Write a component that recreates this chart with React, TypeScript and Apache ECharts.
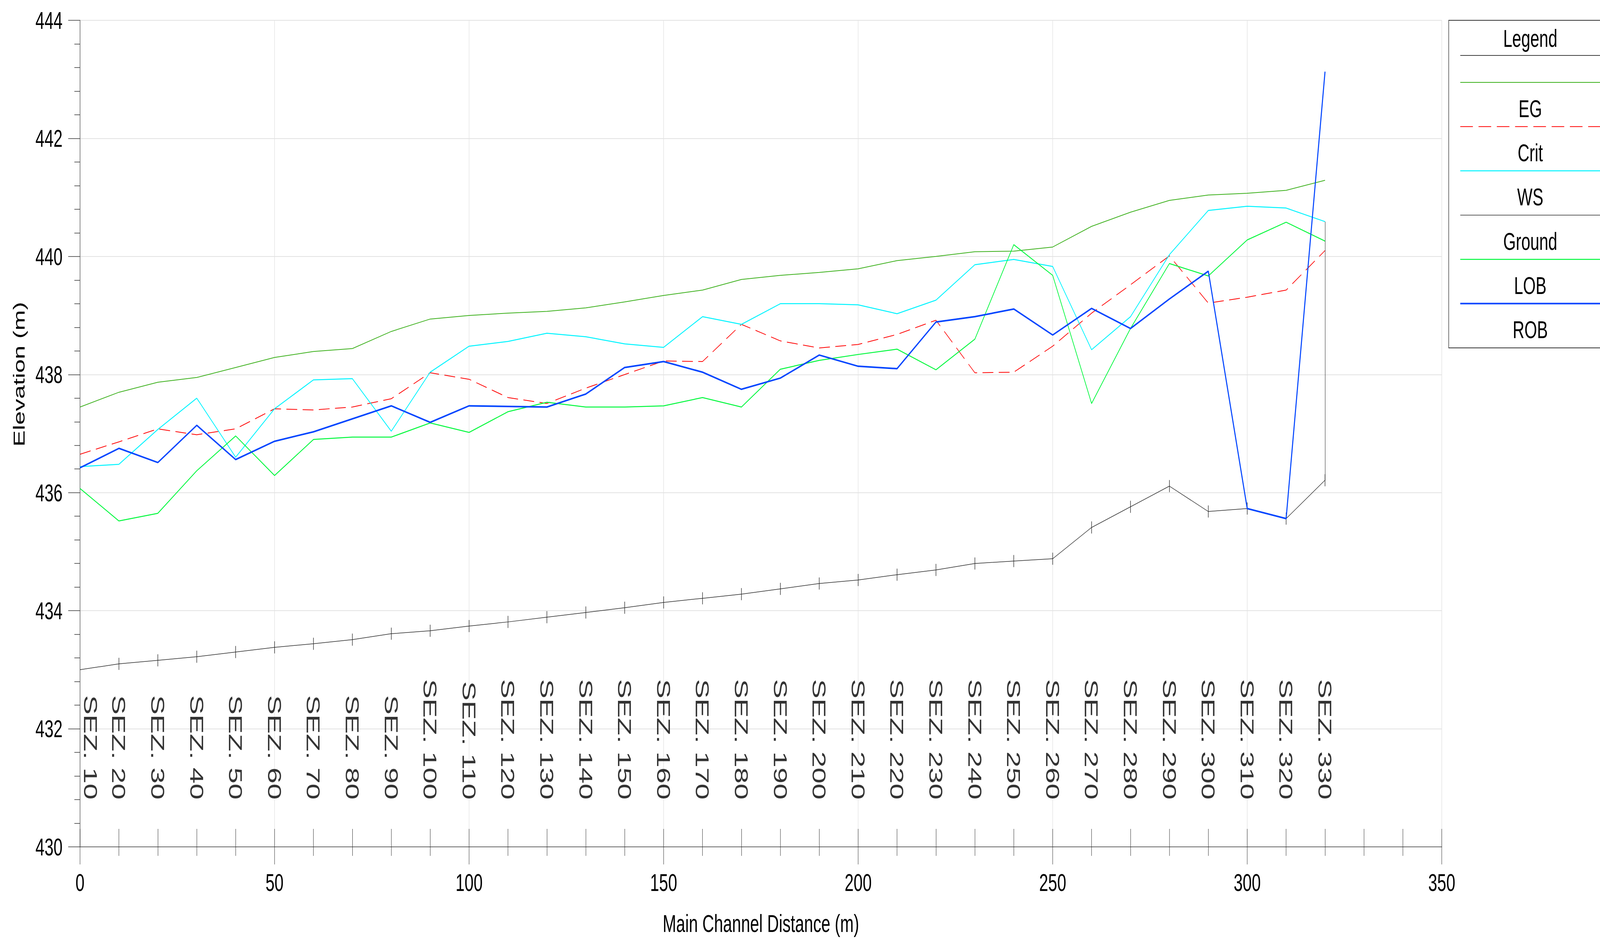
import React, { useEffect, useRef } from "react";
import * as echarts from "echarts";

// ---- data ----
const stations = [0, 10, 20, 30, 40, 50, 60, 70, 80, 90, 100, 110, 120, 130, 140, 150, 160, 170, 180, 190, 200, 210, 220, 230, 240, 250, 260, 270, 280, 290, 300, 310, 320];
const sectionLabels = ["SEZ. 10", "SEZ. 20", "SEZ. 30", "SEZ. 40", "SEZ. 50", "SEZ. 60", "SEZ. 70", "SEZ. 80", "SEZ. 90", "SEZ. 100", "SEZ. 110", "SEZ. 120", "SEZ. 130", "SEZ. 140", "SEZ. 150", "SEZ. 160", "SEZ. 170", "SEZ. 180", "SEZ. 190", "SEZ. 200", "SEZ. 210", "SEZ. 220", "SEZ. 230", "SEZ. 240", "SEZ. 250", "SEZ. 260", "SEZ. 270", "SEZ. 280", "SEZ. 290", "SEZ. 300", "SEZ. 310", "SEZ. 320", "SEZ. 330"];
const egValues = [437.45, 437.70, 437.87, 437.95, 438.12, 438.29, 438.39, 438.44, 438.73, 438.94, 439.00, 439.04, 439.07, 439.13, 439.23, 439.34, 439.43, 439.61, 439.68, 439.73, 439.79, 439.93, 440.00, 440.08, 440.09, 440.16, 440.51, 440.75, 440.95, 441.04, 441.07, 441.12, 441.29];
const critValues = [436.65, 436.86, 437.08, 436.98, 437.08, 437.42, 437.40, 437.45, 437.59, 438.03, 437.92, 437.61, 437.51, 437.77, 438.00, 438.23, 438.22, 438.85, 438.57, 438.45, 438.51, 438.68, 438.92, 438.03, 438.04, 438.48, 439.04, 439.52, 440.01, 439.21, 439.31, 439.43, 440.10];
const wsValues = [436.44, 436.48, 437.07, 437.60, 436.60, 437.42, 437.91, 437.93, 437.04, 438.04, 438.48, 438.56, 438.70, 438.64, 438.52, 438.46, 438.98, 438.85, 439.20, 439.20, 439.18, 439.03, 439.26, 439.86, 439.95, 439.83, 438.42, 438.98, 440.03, 440.78, 440.85, 440.82, 440.59];
const groundValues = [433.00, 433.10, 433.16, 433.22, 433.30, 433.38, 433.44, 433.51, 433.61, 433.66, 433.74, 433.81, 433.89, 433.97, 434.05, 434.14, 434.21, 434.28, 434.37, 434.46, 434.52, 434.61, 434.69, 434.80, 434.84, 434.88, 435.41, 435.76, 436.11, 435.68, 435.73, 435.56, 436.21];
const lobValues = [436.07, 435.52, 435.65, 436.37, 436.96, 436.29, 436.90, 436.94, 436.94, 437.18, 437.02, 437.37, 437.53, 437.45, 437.45, 437.47, 437.61, 437.45, 438.09, 438.24, 438.34, 438.43, 438.08, 438.60, 440.20, 439.68, 437.51, 438.78, 439.88, 439.67, 440.28, 440.58, 440.26];
const robValues = [436.42, 436.75, 436.51, 437.14, 436.56, 436.87, 437.03, 437.25, 437.47, 437.19, 437.47, 437.46, 437.45, 437.67, 438.12, 438.22, 438.04, 437.75, 437.94, 438.33, 438.14, 438.10, 438.89, 438.98, 439.11, 438.67, 439.12, 438.78, 439.28, 439.75, 435.73, 435.56, 443.13];
const seriesNames = ["EG", "Crit", "WS", "Ground", "LOB", "ROB"];
const xRange = [0, 350];
const yRange = [430, 444];

// ---- layout / styles ----
const PAGE_W = 6218;
const PAGE_H = 2405;
const FONT = "'Liberation Sans', Arial, Helvetica, sans-serif";
const styles: Record<string, any> = {
  EG: { color: "#3cb01c", width: 2, type: "solid", dash: null },
  Crit: { color: "#ff0000", width: 2, type: [42, 21], dash: [49, 22] },
  WS: { color: "#00f4ff", width: 2.5, type: "solid", dash: null },
  Ground: { color: "#2a2a2a", width: 1.5, type: "solid", dash: null },
  LOB: { color: "#00f83c", width: 2.5, type: "solid", dash: null },
  ROB: { color: "#0044ff", width: 4, type: "solid", dash: null },
};

if (typeof document !== "undefined") {
  document.body.style.margin = "0";
  document.body.style.overflow = "hidden";
}

const pts = (vals: number[]) => stations.map((s, i) => [s, vals[i]]);

function buildOption() {
  const tickStyle = { color: "#333", width: 1.5 };
  const lineSeries = (name: string, vals: number[], z: number) => ({
    name,
    type: "line",
    data: pts(vals),
    symbol: "none",
    showSymbol: false,
    lineStyle: { color: styles[name].color, width: styles[name].width, type: styles[name].type },
    itemStyle: { color: styles[name].color },
    z,
  });
  const last = stations.length - 1;

  const legendLeft = 5630;
  const legendTop = 52;
  const legendCenter = 5947;
  const legendLineX1 = 5675;
  const firstLineY = 211;
  const step = 113.3;
  const graphic: any[] = [
    {
      type: "rect",
      shape: { x: legendLeft, y: legendTop, width: 720, height: 839 },
      style: { fill: "#fff", stroke: "#333", lineWidth: 2 },
      z: 10,
    },
    {
      type: "text",
      x: legendCenter,
      y: 98,
      style: { text: "Legend", fontSize: 63, fontFamily: FONT, fill: "#000", align: "center", verticalAlign: "middle" },
      z: 11,
    },
    {
      type: "line",
      shape: { x1: legendLineX1, y1: 142, x2: 6400, y2: 142 },
      style: { stroke: "#000", lineWidth: 1.5 },
      z: 11,
    },
  ];
  seriesNames.forEach((n, i) => {
    const y = firstLineY + step * i;
    const st = styles[n];
    graphic.push({
      type: "line",
      shape: { x1: legendLineX1, y1: y, x2: 6400, y2: y },
      style: { stroke: st.color, lineWidth: st.width, lineDash: st.dash || undefined },
      z: 11,
    });
    graphic.push({
      type: "text",
      x: legendCenter,
      y: y + 67,
      style: { text: n, fontSize: 63, fontFamily: FONT, fill: "#000", align: "center", verticalAlign: "middle" },
      z: 11,
    });
  });

  return {
    animation: false,
    backgroundColor: "#ffffff",
    textStyle: { fontFamily: FONT },
    grid: { left: 311, top: 52, width: 5292, height: 2117, containLabel: false, outerBoundsMode: "none" },
    xAxis: [
      {
        type: "value",
        min: xRange[0],
        max: xRange[1],
        interval: 50,
        position: "bottom",
        name: "Main Channel Distance (m)",
        nameLocation: "middle",
        nameGap: 165,
        nameTextStyle: { fontSize: 63, fontFamily: FONT, color: "#000" },
        axisLine: { show: true, onZero: false, lineStyle: { color: "#666", width: 2 } },
        axisTick: { show: true, length: 45, lineStyle: tickStyle },
        minorTick: { show: true, splitNumber: 5, length: 23, lineStyle: tickStyle },
        axisLabel: { fontSize: 63, margin: 60, color: "#000", fontFamily: FONT },
        splitLine: { show: true, lineStyle: { color: "#e2e2e2", width: 2 } },
        minorSplitLine: { show: false },
      },
      {
        type: "value",
        min: xRange[0],
        max: xRange[1],
        interval: 10,
        position: "bottom",
        axisLine: { show: false, onZero: false },
        axisTick: { show: true, inside: true, length: 46, lineStyle: tickStyle },
        axisLabel: { show: false },
        splitLine: { show: false },
      },
    ],
    yAxis: {
      type: "value",
      min: yRange[0],
      max: yRange[1],
      interval: 2,
      name: "Elevation (m)",
      nameLocation: "middle",
      nameGap: 205,
      nameTextStyle: { fontSize: 63, fontFamily: FONT, color: "#000", padding: [0, 0, 0, 304] },
      axisLine: { show: true, onZero: false, lineStyle: { color: "#555", width: 2 } },
      axisTick: { show: true, length: 46, lineStyle: tickStyle },
      minorTick: { show: true, splitNumber: 5, length: 22, lineStyle: tickStyle },
      axisLabel: { fontSize: 63, margin: 68, color: "#000", fontFamily: FONT },
      splitLine: { show: true, lineStyle: { color: "#e2e2e2", width: 2 } },
    },
    graphic,
    series: [
      lineSeries("EG", egValues, 2),
      lineSeries("Crit", critValues, 3),
      lineSeries("WS", wsValues, 4),
      {
        name: "Ground",
        type: "line",
        data: stations.map((s, i) => (i === 0 ? { value: [s, groundValues[i]], symbol: "none" } : [s, groundValues[i]])),
        symbol: "rect",
        symbolSize: [2, 31],
        showSymbol: true,
        lineStyle: { color: styles.Ground.color, width: styles.Ground.width },
        itemStyle: { color: styles.Ground.color },
        markLine: {
          silent: true,
          symbol: "none",
          label: { show: false },
          lineStyle: { color: styles.Ground.color, width: styles.Ground.width, type: "solid" },
          data: [[{ coord: [stations[last], groundValues[last]] }, { coord: [stations[last], wsValues[last]] }]],
        },
        z: 5,
      },
      lineSeries("LOB", lobValues, 6),
      lineSeries("ROB", robValues, 7),
      {
        name: "Sections",
        type: "scatter",
        xAxisIndex: 1,
        silent: true,
        clip: false,
        symbolSize: 1,
        itemStyle: { color: "rgba(0,0,0,0)" },
        data: stations.map((s, i) => ({
          value: [s, yRange[0]],
          name: sectionLabels[i],
          label: i === 0 ? { offset: [-121, -42] } : undefined,
        })),
        label: {
          show: true,
          formatter: (p: any) => p.name,
          position: "inside",
          rotate: -90,
          align: "right",
          verticalAlign: "middle",
          offset: [-121, 0],
          fontSize: 74,
          fontFamily: FONT,
          color: "#000",
        },
        z: 8,
      },
    ],
  };
}

export default function App() {
  const ref = useRef<HTMLDivElement>(null);
  const vw = typeof window !== "undefined" ? window.innerWidth || PAGE_W : PAGE_W;
  const vh = typeof window !== "undefined" ? window.innerHeight || PAGE_H : PAGE_H;
  const sx = Math.min(1, vw / PAGE_W);
  const sy = Math.min(1, vh / PAGE_H);
  useEffect(() => {
    if (!ref.current) return;
    const chart = echarts.init(ref.current, undefined, { renderer: "svg", width: PAGE_W, height: PAGE_H });
    chart.setOption(buildOption() as any);
    return () => chart.dispose();
  }, []);
  return (
    <div style={{ position: "absolute", left: 0, top: 0, width: PAGE_W * sx, height: PAGE_H * sy, overflow: "hidden", background: "#fff" }}>
      <div
        ref={ref}
        style={{
          width: PAGE_W,
          height: PAGE_H,
          background: "#fff",
          transform: `scale(${sx}, ${sy})`,
          transformOrigin: "0 0",
        }}
      />
    </div>
  );
}
